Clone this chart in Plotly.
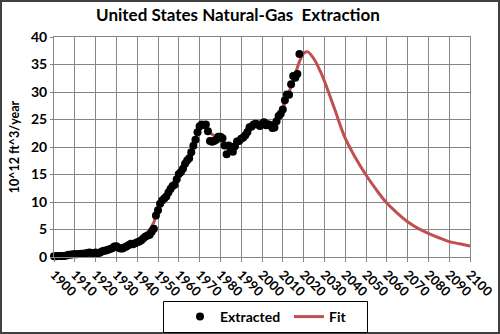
import plotly.graph_objects as go

# Extracted natural gas (10^12 ft^3/year), 1900-2018
ext_years = list(range(1900, 2019))
ext_values = [
    0.13, 0.14, 0.16, 0.18, 0.19, 0.20, 0.26, 0.41, 0.40, 0.48,   # 1900-1909
    0.51, 0.51, 0.56, 0.58, 0.59, 0.63, 0.75, 0.80, 0.72, 0.75,   # 1910-1919
    0.80, 0.66, 0.76, 1.01, 1.14, 1.19, 1.31, 1.45, 1.57, 1.92,   # 1920-1929
    1.94, 1.69, 1.56, 1.56, 1.77, 1.97, 2.17, 2.41, 2.30, 2.48,   # 1930-1939
    2.66, 2.81, 3.05, 3.41, 3.71, 3.92, 4.03, 4.58, 5.15, 7.55,   # 1940-1949
    8.48, 9.69, 10.27, 10.65, 10.98, 11.72, 12.37, 12.91, 13.15, 14.15,  # 1950-1959
    15.09, 15.46, 16.04, 16.97, 17.54, 17.96, 19.03, 20.25, 21.33, 22.68,  # 1960-1969
    23.79, 24.09, 24.02, 24.07, 22.85, 21.10, 20.94, 21.10, 21.30, 21.88,  # 1970-1979
    21.87, 21.59, 20.27, 18.66, 20.27, 19.61, 19.13, 20.14, 20.99, 21.07,  # 1980-1989
    21.52, 21.75, 22.13, 22.73, 23.58, 23.74, 24.11, 24.21, 24.11, 23.82,  # 1990-1999
    24.17, 24.50, 23.94, 24.12, 23.97, 23.46, 23.54, 24.66, 25.64, 26.06,  # 2000-2009
    26.82, 28.48, 29.54, 29.52, 31.41, 32.92, 32.59, 33.29, 36.90,         # 2010-2018
]

# Fit curve
fit_years = [1900, 1910, 1920, 1930, 1940, 1945, 1948, 1950, 1955, 1960, 1965,
             1970, 1972, 1975, 1978, 1980, 1983, 1985, 1990, 1995, 2000, 2005,
             2008, 2010, 2013, 2015, 2018, 2020, 2022, 2025, 2028, 2030, 2035,
             2040, 2045, 2050, 2055, 2060, 2065, 2070, 2075, 2080, 2085, 2090,
             2095, 2100]
fit_values = [0.1, 0.4, 0.8, 1.6, 3.0, 4.5, 6.3, 8.6, 11.8, 15.0, 18.5,
              23.0, 23.9, 22.6, 21.8, 21.3, 20.5, 20.2, 21.5, 23.4, 24.2, 24.5,
              25.5, 27.0, 30.0, 32.0, 35.5, 37.0, 37.3, 36.0, 33.8, 32.0, 26.8,
              21.6, 18.0, 14.9, 12.2, 9.8, 8.0, 6.4, 5.2, 4.3, 3.5, 2.8,
              2.4, 2.0]

x_ticks = list(range(1900, 2101, 10))
y_ticks = list(range(0, 41, 5))

FONT = "Lato"
W, H = 500, 334
L, R, T, B = 54, 30, 37, 77
pw, ph = W - L - R, H - T - B


def px(xp):
    return (xp - L) / pw


def py(yp):
    return (H - B - yp) / ph


fig = go.Figure()
fig.add_trace(go.Scatter(
    x=fit_years, y=fit_values, mode="lines", name="<b>Fit</b>",
    line=dict(color="#C0504D", width=3, shape="spline"),
    cliponaxis=False, legend="legend2",
))
fig.add_trace(go.Scatter(
    x=ext_years, y=ext_values, mode="markers", name="<b>Extracted</b>",
    marker=dict(color="black", size=8),
    cliponaxis=False, legend="legend",
))

leg_common = dict(orientation="h", xanchor="left", yanchor="middle",
                  y=py(317), bgcolor="rgba(0,0,0,0)", borderwidth=0,
                  font=dict(size=14, family=FONT), itemwidth=30)

fig.update_layout(
    width=W, height=H,
    margin=dict(l=L, r=R, t=T, b=B, autoexpand=False),
    paper_bgcolor="white", plot_bgcolor="white",
    font=dict(family=FONT, color="black"),
    title=dict(text="<b>United States Natural-Gas  Extraction</b>",
               x=px(238), xref="paper", xanchor="center",
               y=1 - 15 / H, yanchor="middle",
               font=dict(size=17, family=FONT)),
    showlegend=True,
    legend=dict(x=px(180), **leg_common),
    legend2=dict(x=px(289), **leg_common),
    xaxis=dict(range=[1900, 2100], tickmode="array", tickvals=x_ticks,
               ticktext=[f"<b>{t}</b>" for t in x_ticks], tickangle=45,
               showgrid=True, gridcolor="#858585", gridwidth=1,
               showline=True, linecolor="#858585", mirror=True,
               ticks="outside", ticklen=4, tickcolor="#858585",
               tickfont=dict(size=13, family=FONT), zeroline=False,
               automargin=False),
    yaxis=dict(range=[0, 40], tickmode="array", tickvals=y_ticks,
               ticktext=[f"<b>{t}</b>" for t in y_ticks],
               showgrid=True, gridcolor="#858585", gridwidth=1,
               showline=True, linecolor="#858585", mirror=True,
               ticks="outside", ticklen=3, tickcolor="#858585",
               tickfont=dict(size=14, family=FONT), zeroline=False,
               automargin=False,
               title=dict(text="<b>10^12 ft^3/year</b>", font=dict(size=12.5, family=FONT),
                          standoff=8)),
    shapes=[
        dict(type="rect", xref="paper", yref="paper",
             x0=px(1), x1=px(W - 1), y0=py(H - 1), y1=py(1),
             line=dict(color="#404040", width=2), layer="above"),
        dict(type="rect", xref="paper", yref="paper",
             x0=px(163.5), x1=px(367.5), y0=py(332.5), y1=py(301.5),
             line=dict(color="black", width=1), layer="above"),
    ],
)

fig.write_html("out.html")
